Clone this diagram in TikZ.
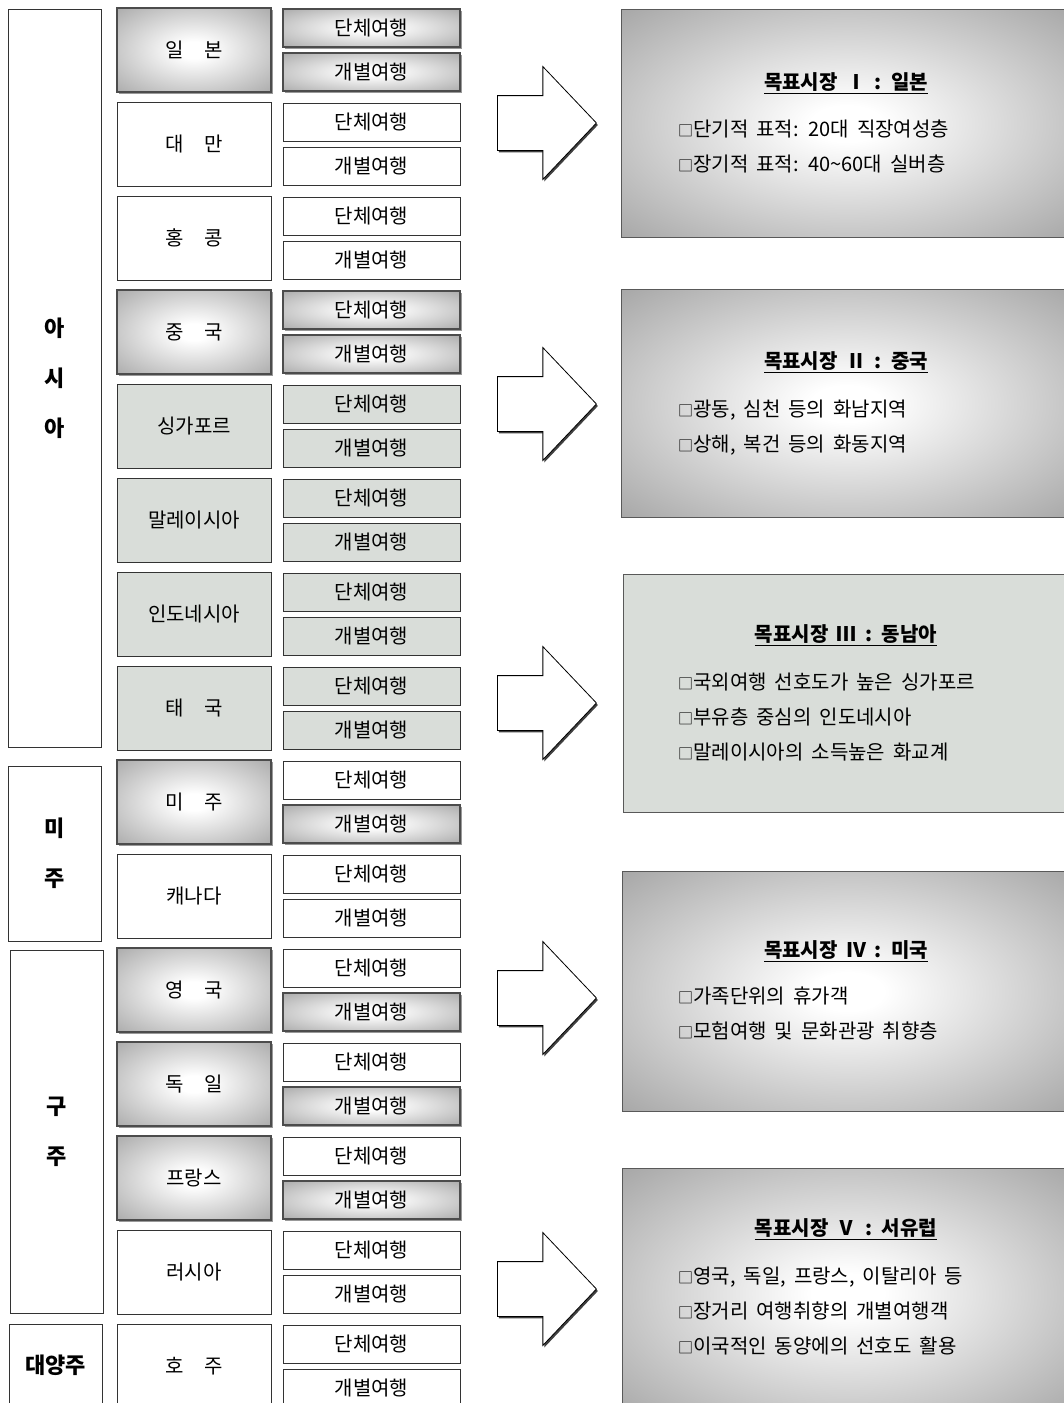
\documentclass[tikz,border=0pt]{standalone}
\usepackage{fontspec}
\setmainfont[WordSpace=1.8]{Noto Sans CJK KR}
\usetikzlibrary{shapes.arrows,shadows}
\definecolor{edgegray}{RGB}{132,132,132}
\definecolor{panelgray}{RGB}{138,138,138}
\definecolor{seagray}{RGB}{217,221,217}
% white centre, grey reached at the middle of each side
\pgfdeclareradialshading{cellglow}{\pgfpoint{0bp}{0bp}}{color(0bp)=(white); color(5bp)=(white);
  color(50bp)=(edgegray)}
\pgfdeclareradialshading{panelglow}{\pgfpoint{0bp}{0bp}}{color(0bp)=(white); color(4bp)=(white);
  color(46bp)=(panelgray); color(50bp)=(panelgray)}
\begin{document}
\begin{tikzpicture}[x=1pt,y=-1pt,
  every node/.style={inner sep=0pt, font=\fontsize{20}{24}\selectfont},
  plainbox/.style={draw=black!80, fill=white, line width=1pt},
  greybox/.style={draw=black!80, fill=seagray, line width=1pt},
  shadedbox/.style={draw=black!70, line width=1.6pt, shade, shading=cellglow,
    drop shadow={shadow xshift=1.5pt, shadow yshift=-1.5pt, fill=black!40, opacity=1}},
  region/.style={draw=black!80, line width=1pt, minimum width=93pt, align=center,
    font=\fontsize{22}{50}\selectfont\bfseries},
  country/.style={minimum width=154pt, minimum height=84pt},
  trip/.style={minimum width=177pt, minimum height=38pt},
  target/.style={draw=black!65, line width=1.4pt, minimum width=450pt, anchor=north west},
  panel/.style={target, shade, shading=panelglow},
  bigarrow/.style={single arrow, draw=black, fill=white, line width=0.8pt, anchor=tail,
    inner xsep=0pt, inner ysep=27pt, minimum height=99pt, single arrow head extend=29pt,
    single arrow tip angle=93,
    drop shadow={shadow xshift=1.5pt, shadow yshift=-2pt, fill=black!75, opacity=1}},
  heading/.style={font=\fontsize{20}{24}\selectfont\bfseries},
  points/.style={anchor=west, align=left, font=\fontsize{20}{35}\selectfont}]
\def\sq{{\fontsize{15}{15}\selectfont □}}
\useasboundingbox (0,0) rectangle (1063,1403);

% continents
\node[region, minimum height=738pt] (asia) at (54.5,378) {아\\시\\아};
\node[region, minimum height=175pt] (america) at (55,853.5) {미\\주};
\node[region, minimum height=363pt] (europe) at (56.5,1131.5) {구\\주};
\node[region, minimum height=82pt] (oceania) at (55.5,1365) {대양주};

% countries with group / individual travel
\foreach \key/\label/\ka/\kb/\kc [count=\i from 0] in {
  jp/일\quad 본/shadedbox/shadedbox/shadedbox,
  tw/대\quad 만/plainbox/plainbox/plainbox,
  hk/홍\quad 콩/plainbox/plainbox/plainbox,
  cn/중\quad 국/shadedbox/shadedbox/shadedbox,
  sg/싱가포르/greybox/greybox/greybox,
  my/말레이시아/greybox/greybox/greybox,
  id/인도네시아/greybox/greybox/greybox,
  th/태\quad 국/greybox/greybox/greybox,
  us/미\quad 주/shadedbox/plainbox/shadedbox,
  ca/캐나다/plainbox/plainbox/plainbox,
  uk/영\quad 국/shadedbox/plainbox/shadedbox,
  de/독\quad 일/shadedbox/plainbox/shadedbox,
  fr/프랑스/shadedbox/plainbox/shadedbox,
  ru/러시아/plainbox/plainbox/plainbox,
  au/호\quad 주/plainbox/plainbox/plainbox}{
  \node[country, \ka] (\key) at (194,50+94*\i) {\label};
  \node[trip, \kb] (\key-g) at (371.5,28+94*\i) {단체여행};
  \node[trip, \kc] (\key-f) at (371.5,72+94*\i) {개별여행};
}

% arrows
\foreach \y [count=\n] in {123,404,703,998,1289}
  \node[bigarrow] (arrow\n) at (497,\y) {};

% target markets
\node[panel, minimum height=228pt] (target1) at (621,9) {};
\node[panel, minimum height=228pt] (target2) at (621,289) {};
\node[target, fill=seagray, minimum height=238pt] (target3) at (623,574) {};
\node[panel, minimum height=240pt] (target4) at (622,871) {};
\node[panel, minimum height=250pt] (target5) at (622,1168) {};

\node[heading] (title1) at (846,83) {\underline{목표시장 Ⅰ : 일본}};
\node[points] (list1) at (678,146.5) {\sq 단기적 표적: 20대 직장여성층\\
  \sq 장기적 표적: 40\textasciitilde60대 실버층};
\node[heading] (title2) at (846,362) {\underline{목표시장 Ⅱ : 중국}};
\node[points] (list2) at (678,427.5) {\sq 광동, 심천 등의 화남지역\\
  \sq 상해, 복건 등의 화동지역};
\node[heading] (title3) at (846,635) {\underline{목표시장 Ⅲ : 동남아}};
\node[points] (list3) at (678,717) {\sq 국외여행 선호도가 높은 싱가포르\\
  \sq 부유층 중심의 인도네시아\\ \sq 말레이시아의 소득높은 화교계};
\node[heading] (title4) at (846,951) {\underline{목표시장 Ⅳ : 미국}};
\node[points] (list4) at (678,1013.5) {\sq 가족단위의 휴가객\\
  \sq 모험여행 및 문화관광 취향층};
\node[heading] (title5) at (846,1229) {\underline{목표시장 Ⅴ : 서유럽}};
\node[points] (list5) at (678,1311) {\sq 영국, 독일, 프랑스, 이탈리아 등\\
  \sq 장거리 여행취향의 개별여행객\\ \sq 이국적인 동양에의 선호도 활용};
\end{tikzpicture}
\end{document}
